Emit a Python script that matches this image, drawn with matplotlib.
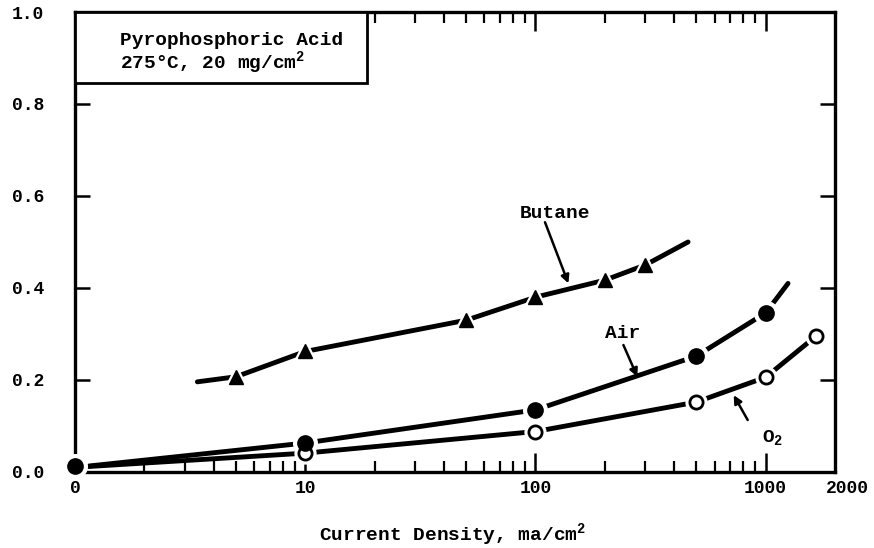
import matplotlib.pyplot as plt
import matplotlib.transforms as mtransforms
from matplotlib.patches import Rectangle

# Данные (ось x логарифмическая, левый край подписан "0")
butane_x = [5, 10, 50, 100, 200, 300]
butane_y = [0.207, 0.262, 0.33, 0.38, 0.417, 0.45]
butane_line_x = [3.4, 5, 10, 50, 100, 200, 300, 460]
butane_line_y = [0.196, 0.207, 0.262, 0.33, 0.38, 0.417, 0.45, 0.50]

air_x = [1, 10, 100, 500, 1000]
air_y = [0.012, 0.063, 0.135, 0.252, 0.346]
air_line_x = [1.15, 10, 100, 500, 1000, 1250]
air_line_y = [0.013, 0.063, 0.135, 0.252, 0.346, 0.41]

o2_x = [10, 100, 500, 1000, 1650]
o2_y = [0.041, 0.088, 0.152, 0.206, 0.295]
o2_line_x = [1.15, 10, 100, 500, 1000, 1650]
o2_line_y = [0.012, 0.041, 0.088, 0.152, 0.206, 0.295]

x_ticks = [1, 10, 100, 1000, 2000]
x_tick_labels = ['0', '10', '100', '1000', '2000']
x_minor = [2, 3, 4, 5, 6, 7, 8, 9, 20, 30, 40, 50, 60, 70, 80, 90,
           200, 300, 400, 500, 600, 700, 800, 900]
y_ticks = [0.0, 0.2, 0.4, 0.6, 0.8, 1.0]

plt.rcParams['font.family'] = ['Liberation Mono', 'DejaVu Sans Mono']
plt.rcParams['font.weight'] = 'bold'
plt.rcParams['mathtext.default'] = 'regular'

fig = plt.figure(figsize=(8.74, 5.48), dpi=100)
ax = fig.add_axes([0.0858, 0.1387, 0.8696, 0.8394])

# Линии
for lx, ly in [(butane_line_x, butane_line_y), (air_line_x, air_line_y), (o2_line_x, o2_line_y)]:
    ax.plot(lx, ly, color='black', lw=3.5, solid_capstyle='round', zorder=2)

# Белый ореол вокруг маркеров (разрывы линии)
ax.plot(butane_x, butane_y, ls='none', marker='^', ms=17, color='white', zorder=3)
ax.plot(air_x, air_y, ls='none', marker='o', ms=17, color='white', zorder=3, clip_on=False)
ax.plot(o2_x, o2_y, ls='none', marker='o', ms=15, color='white', zorder=3)

# Маркеры
ax.plot(butane_x, butane_y, ls='none', marker='^', ms=10, color='black', zorder=4)
ax.plot(o2_x, o2_y, ls='none', marker='o', ms=9.5, mfc='white', mec='black', mew=2, zorder=4)
ax.plot(air_x, air_y, ls='none', marker='o', ms=11, color='black', zorder=5, clip_on=False)

# Подписи со стрелками
arrow = dict(arrowstyle='-|>', color='black', lw=1.8, mutation_scale=12, shrinkA=0, shrinkB=0)
ax.text(122, 0.563, 'Butane', ha='center', va='center', fontsize=14)
ax.annotate('', xy=(139, 0.41), xytext=(110, 0.543), arrowprops=arrow)
ax.text(239, 0.302, 'Air', ha='center', va='center', fontsize=14)
ax.annotate('', xy=(277, 0.207), xytext=(241, 0.276), arrowprops=arrow)
ax.text(1073, 0.075, 'O$_2$', ha='center', va='center', fontsize=14)
ax.annotate('', xy=(726, 0.167), xytext=(835, 0.113), arrowprops=arrow)

# Рамка с условиями
ax.add_patch(Rectangle((0, 0.846), 0.384, 0.154, transform=ax.transAxes,
                       facecolor='white', edgecolor='black', lw=2, zorder=6))
ax.text(0.059, 0.939, 'Pyrophosphoric Acid', transform=ax.transAxes,
        fontsize=14, va='center', ha='left', zorder=7)
ax.text(0.059, 0.889, '275°C, 20 mg/cm$^2$', transform=ax.transAxes,
        fontsize=14, va='center', ha='left', zorder=7)

# Оси
ax.set_xscale('log')
ax.set_xlim(1, 2000)
ax.set_ylim(0, 1.0)
ax.set_xticks(x_ticks)
ax.set_xticklabels(x_tick_labels)
ax.set_xticks(x_minor, minor=True)
ax.set_xticklabels([], minor=True)
ax.set_yticks(y_ticks)
ax.set_yticklabels(['%.1f' % v for v in y_ticks])

ax.tick_params(axis='x', which='major', direction='in', length=14, width=1.8,
               top=True, labelsize=13, pad=6)
ax.tick_params(axis='x', which='minor', direction='in', length=8, width=1.6, top=True)
ax.tick_params(axis='y', which='major', direction='in', length=11, width=1.8,
               right=True, labelsize=13, pad=22)

# Подпись "2000" немного правее края
lbl = ax.get_xticklabels()[-1]
lbl.set_transform(lbl.get_transform() + mtransforms.ScaledTranslation(0.12, 0, fig.dpi_scale_trans))

for s in ax.spines.values():
    s.set_linewidth(2.4)

# Подпись оси x
fig.text(452 / 874, 1 - 535 / 548, 'Current Density, ma/cm$^2$', fontsize=14,
         ha='center', va='center')

fig.savefig('out.png', dpi=100)
